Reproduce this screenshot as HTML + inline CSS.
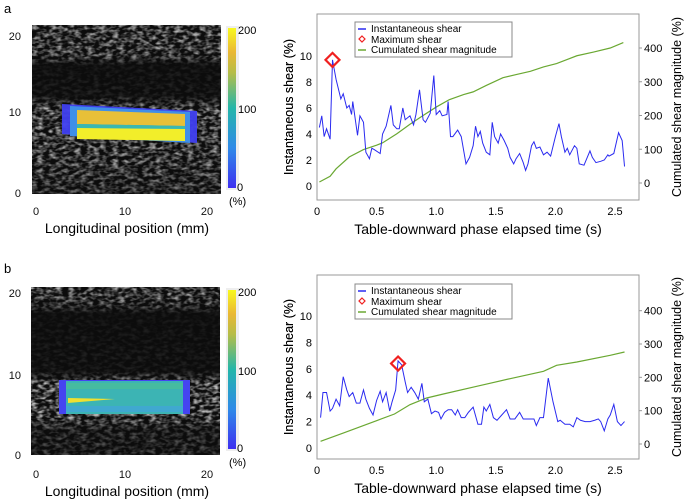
<!DOCTYPE html>
<html><head><meta charset="utf-8"><style>
body{margin:0;background:#fff;}
svg{display:block;font-family:"Liberation Sans",sans-serif;}
</style></head><body>
<svg id="fig" width="685" height="501" viewBox="0 0 685 501" xmlns="http://www.w3.org/2000/svg">
<defs>
<filter id="speckle" x="0" y="0" width="100%" height="100%">
<feTurbulence type="fractalNoise" baseFrequency="0.16 0.3" numOctaves="2" seed="4"/>
<feColorMatrix type="matrix" values="0 0 0 0 0.85  0 0 0 0 0.85  0 0 0 0 0.85  2.4 0 0 0 -0.95"/>
</filter>
<linearGradient id="bandA" x1="0" y1="0" x2="0" y2="1">
<stop offset="0" stop-color="#fff" stop-opacity="0.75"/><stop offset="0.18" stop-color="#fff" stop-opacity="0.65"/>
<stop offset="0.24" stop-color="#fff" stop-opacity="0.08"/><stop offset="0.42" stop-color="#fff" stop-opacity="0.12"/>
<stop offset="0.5" stop-color="#fff" stop-opacity="0.8"/><stop offset="0.75" stop-color="#fff" stop-opacity="0.7"/>
<stop offset="1" stop-color="#fff" stop-opacity="0.45"/></linearGradient>
<linearGradient id="bandB" x1="0" y1="0" x2="0" y2="1">
<stop offset="0" stop-color="#fff" stop-opacity="0.75"/><stop offset="0.1" stop-color="#fff" stop-opacity="0.55"/>
<stop offset="0.16" stop-color="#fff" stop-opacity="0.07"/><stop offset="0.5" stop-color="#fff" stop-opacity="0.1"/>
<stop offset="0.58" stop-color="#fff" stop-opacity="0.85"/><stop offset="0.78" stop-color="#fff" stop-opacity="0.75"/>
<stop offset="0.85" stop-color="#fff" stop-opacity="0.3"/><stop offset="1" stop-color="#fff" stop-opacity="0.3"/></linearGradient>
<mask id="maskA" maskContentUnits="objectBoundingBox"><rect width="1" height="1" fill="url(#bandA)"/></mask>
<mask id="maskB" maskContentUnits="objectBoundingBox"><rect width="1" height="1" fill="url(#bandB)"/></mask>
<linearGradient id="cbar" x1="0" y1="1" x2="0" y2="0">
<stop offset="0" stop-color="#3d2ff0"/><stop offset="0.25" stop-color="#2f8ae8"/><stop offset="0.5" stop-color="#24b6aa"/>
<stop offset="0.72" stop-color="#b5bd48"/><stop offset="0.85" stop-color="#eab834"/><stop offset="1" stop-color="#f8f820"/></linearGradient>
</defs>

<!-- Panel a image -->
<text x="4" y="13" font-size="13">a</text>
<g>
<rect x="32" y="25" width="189" height="169" fill="#0c0c0c"/>
<rect x="32" y="25" width="189" height="169" filter="url(#speckle)" mask="url(#maskA)"/>
<g>
<polygon points="62,104 197,111 197,143 62,134" fill="#4040f0" opacity="0.95"/>
<polygon points="70,106 190,112 190,143 70,136" fill="#3f8fe8"/>
<polygon points="77,110 185,114 185,126 77,124" fill="#e8c038"/>
<polygon points="77,124 185,126 185,129 77,128" fill="#3ab8b0"/>
<polygon points="77,128 185,129 185,141 77,139" fill="#f2ee2a"/>
</g></g>
<g font-size="11" fill="#111">
<text x="21" y="40" text-anchor="end">20</text><text x="21" y="116" text-anchor="end">10</text><text x="21" y="197" text-anchor="end">0</text>
<text x="36" y="215" text-anchor="middle">0</text><text x="125" y="215" text-anchor="middle">10</text><text x="207" y="215" text-anchor="middle">20</text>
</g>
<text x="127" y="233" font-size="14" text-anchor="middle">Longitudinal position (mm)</text>
<rect x="226" y="26" width="13" height="164" fill="#eee"/>
<rect x="228" y="28" width="8" height="160" fill="url(#cbar)"/>
<g font-size="11">
<text x="238" y="34">200</text><text x="238" y="113">100</text><text x="237" y="191">0</text><text x="229" y="205">(%)</text></g>
<text transform="translate(293,107) rotate(-90)" font-size="12.5" text-anchor="middle">Instantaneous shear  (%)</text>

<!-- Panel b image -->
<text x="4" y="273" font-size="13">b</text>
<g>
<rect x="31" y="287" width="189" height="168" fill="#0c0c0c"/>
<rect x="31" y="287" width="189" height="168" filter="url(#speckle)" mask="url(#maskB)"/>
<g>
<rect x="59" y="380" width="131" height="34" fill="#4545f0"/>
<rect x="66" y="381" width="117" height="33" fill="#3cb4b4"/>
<rect x="66" y="383" width="117" height="6" fill="#46bca0"/>
<polygon points="68,398 115,399 68,403" fill="#f0e030"/>
<rect x="66" y="406" width="117" height="6" fill="#40a8d0"/>
</g></g>
<g font-size="11" fill="#111">
<text x="21" y="297" text-anchor="end">20</text><text x="21" y="379" text-anchor="end">10</text><text x="21" y="459" text-anchor="end">0</text>
<text x="36" y="478" text-anchor="middle">0</text><text x="125" y="478" text-anchor="middle">10</text><text x="207" y="478" text-anchor="middle">20</text>
</g>
<text x="127" y="496" font-size="14" text-anchor="middle">Longitudinal position (mm)</text>
<rect x="226" y="288" width="13" height="163" fill="#eee"/>
<rect x="228" y="290" width="8" height="159" fill="url(#cbar)"/>
<g font-size="11">
<text x="238" y="296">200</text><text x="238" y="375">100</text><text x="237" y="452">0</text><text x="229" y="466">(%)</text></g>
<text transform="translate(293,367) rotate(-90)" font-size="12.5" text-anchor="middle">Instantaneous shear  (%)</text>

<g id="chartA"></g>
<g id="chartB"></g>
</svg>
<script>
// Chart a data
const timeA = [0.02,0.04,0.06,0.08,0.11,0.13,0.16,0.20,0.22,0.25,0.27,0.29,0.30,0.34,0.36,0.39,0.41,0.44,0.46,0.48,0.53,0.55,0.58,0.62,0.64,0.67,0.69,0.72,0.74,0.78,0.81,0.83,0.86,0.89,0.91,0.95,0.98,1.00,1.03,1.05,1.09,1.10,1.12,1.14,1.18,1.21,1.25,1.28,1.31,1.33,1.35,1.37,1.39,1.42,1.45,1.47,1.49,1.52,1.54,1.57,1.60,1.62,1.65,1.67,1.70,1.73,1.75,1.77,1.80,1.82,1.84,1.87,1.90,1.93,1.96,2.00,2.03,2.05,2.08,2.10,2.12,2.16,2.18,2.20,2.24,2.29,2.31,2.34,2.38,2.41,2.44,2.45,2.49,2.53,2.56,2.58];
const shearA = [4.5,5.4,3.8,4.4,3.6,9.7,8.2,6.7,7.1,6.0,6.2,5.5,6.5,3.9,5.4,4.9,2.6,2.1,2.9,2.8,2.5,4.0,4.6,6.2,4.7,4.4,4.4,6.0,5.1,5.4,4.7,5.5,7.4,5.1,4.9,5.6,8.5,5.5,5.8,5.4,5.5,6.5,3.8,3.8,4.3,3.8,1.7,2.2,3.1,4.6,3.8,4.2,3.3,2.6,2.4,4.9,3.8,3.3,4.0,3.5,2.9,2.2,1.7,2.1,2.5,1.8,1.2,1.7,3.1,3.4,2.9,3.0,2.4,2.6,2.3,3.8,4.8,3.8,2.6,2.9,2.4,3.1,2.9,1.7,1.6,2.7,2.2,1.8,1.9,2.0,2.4,2.3,2.5,4.1,3.5,1.5];
const cumTimeA = [0.02,0.11,0.16,0.27,0.39,0.50,0.55,0.67,0.78,0.89,1.00,1.11,1.23,1.31,1.42,1.56,1.68,1.79,1.90,2.01,2.10,2.18,2.32,2.46,2.57];
const cumA = [3,20,42,77,99,112,119,146,174,200,225,247,262,270,289,312,322,331,344,354,366,377,388,400,416];
const maxA = [0.13, 9.7];
// Chart b data
const timeB = [0.03,0.05,0.08,0.11,0.13,0.16,0.19,0.22,0.25,0.27,0.30,0.33,0.36,0.39,0.41,0.44,0.47,0.50,0.53,0.55,0.58,0.61,0.63,0.66,0.68,0.71,0.74,0.76,0.79,0.82,0.85,0.88,0.90,0.93,0.96,0.99,1.02,1.04,1.07,1.10,1.13,1.16,1.18,1.21,1.24,1.27,1.31,1.35,1.38,1.40,1.42,1.45,1.48,1.51,1.55,1.59,1.62,1.66,1.70,1.73,1.77,1.82,1.84,1.87,1.90,1.94,1.98,2.02,2.04,2.08,2.12,2.15,2.18,2.21,2.25,2.29,2.33,2.36,2.38,2.41,2.44,2.46,2.49,2.52,2.55,2.58];
const shearB = [2.3,4.2,4.2,2.8,3.0,3.7,3.2,5.4,4.4,3.9,4.2,3.4,3.4,4.4,3.7,3.0,2.5,3.6,4.3,3.5,4.2,2.8,3.5,4.4,6.6,6.3,5.0,4.2,4.6,4.2,3.7,4.9,3.5,3.7,2.6,2.8,2.7,2.2,2.7,2.9,2.9,2.5,2.9,2.3,2.3,2.7,3.1,1.8,1.8,3.1,2.8,3.3,2.3,2.1,2.5,2.9,2.2,2.2,2.7,2.2,2.2,2.2,1.7,2.3,2.3,5.3,3.5,2.0,2.1,1.8,1.8,1.6,2.3,2.1,2.0,2.0,2.1,2.2,2.0,1.3,2.2,2.5,3.3,2.0,1.7,2.0];
const cumTimeB = [0.03,0.22,0.50,0.65,0.78,0.92,1.06,1.34,1.62,1.90,2.01,2.18,2.46,2.58];
const cumB = [8,33,70,90,118,138,150,173,196,218,236,246,266,276];
const maxB = [0.68, 6.4];
const xTicks = [0,0.5,1.0,1.5,2.0,2.5];
const xTickLabels = ["0","0.5","1.0","1.5","2.0","2.5"];
const leftTicks = [0,2,4,6,8,10];
const rightTicks = [0,100,200,300,400];

const NS='http://www.w3.org/2000/svg';
function mk(parent,tag,attrs,text){const e=document.createElementNS(NS,tag);for(const k in attrs)e.setAttribute(k,attrs[k]);if(text!==undefined)e.textContent=text;parent.appendChild(e);return e;}

function drawChart(g, cfg, time, shear, cumT, cum, mx, tag){
  const X=t=>cfg.x0+t*cfg.xs;
  const YL=v=>cfg.yL0-v*cfg.yLs;
  const YR=c=>cfg.yR0-c*cfg.yRs;
  const box=mk(g,'rect',{x:cfg.bx0,y:cfg.by0,width:cfg.bx1-cfg.bx0,height:cfg.by1-cfg.by0,fill:'none',stroke:'#999','stroke-width':1});
  
  
  xTicks.forEach((t,i)=>{
    const l=mk(g,'text',{x:X(t),y:cfg.by1+15,'font-size':11,'text-anchor':'middle'},xTickLabels[i]);
    
    
  });
  leftTicks.forEach(v=>{
    const l=mk(g,'text',{x:cfg.bx0-5,y:YL(v)+4,'font-size':11,'text-anchor':'end'},String(v));
    
    
  });
  rightTicks.forEach(v=>{
    const tk=mk(g,'line',{x1:cfg.bx1,x2:cfg.bx1+3,y1:YR(v),y2:YR(v),stroke:'#999'});
    
    
    const l=mk(g,'text',{x:cfg.bx1+5,y:YR(v)+4,'font-size':11},String(v));
    
    
  });
  const xt=mk(g,'text',{x:478,y:cfg.by1+34,'font-size':14,'text-anchor':'middle'},'Table-downward phase elapsed time (s)');
  
  
  const cy=(cfg.by0+cfg.by1)/2;
  const lt=mk(g,'text',{transform:`translate(293,${cy}) rotate(-90)`,'font-size':12.5,'text-anchor':'middle'},'Instantaneous shear  (%)');
  
  
  const rt=mk(g,'text',{transform:`translate(681,${cy}) rotate(-90)`,'font-size':12.5,'text-anchor':'middle'},'Cumulated shear magnitude (%)');
  
  
  const cl=mk(g,'polyline',{points:cumT.map((t,i)=>X(t)+','+YR(cum[i])).join(' '),fill:'none',stroke:'#6aa832','stroke-width':1.2});
  
  
  const sl=mk(g,'polyline',{points:time.map((t,i)=>X(t)+','+YL(shear[i])).join(' '),fill:'none',stroke:'#2a2af0','stroke-width':1});
  
  
  const mxX=X(mx[0]), mxY=YL(mx[1]);
  const m=mk(g,'polygon',{points:`${mxX},${mxY-7} ${mxX+7},${mxY} ${mxX},${mxY+7} ${mxX-7},${mxY}`,fill:'none',stroke:'#f02020','stroke-width':2.2});
  
  
  // legend
  const lg=mk(g,'g',{});
  
  
  const ly=cfg.ly;
  mk(lg,'rect',{x:355,y:ly,width:157,height:35,fill:'#fff',stroke:'#888'});
  const e1=mk(lg,'g',{});
  
  
  mk(e1,'line',{x1:358,x2:366,y1:ly+7,y2:ly+7,stroke:'#2a2af0','stroke-width':1.5});
  mk(e1,'text',{x:371,y:ly+10,'font-size':10},'Instantaneous shear');
  const e2=mk(lg,'g',{});
  
  
  mk(e2,'polygon',{points:`362,${ly+14} 365,${ly+17} 362,${ly+20} 359,${ly+17}`,fill:'none',stroke:'#f02020','stroke-width':1.2});
  mk(e2,'text',{x:371,y:ly+21,'font-size':10},'Maximum shear');
  const e3=mk(lg,'g',{});
  
  
  mk(e3,'line',{x1:358,x2:366,y1:ly+28,y2:ly+28,stroke:'#6aa832','stroke-width':1.5});
  mk(e3,'text',{x:371,y:ly+31,'font-size':10},'Cumulated shear magnitude');
}
drawChart(document.getElementById('chartA'),
  {x0:317,xs:119.2,yL0:186,yLs:13,yR0:183,yRs:0.3375,bx0:317,bx1:639,by0:14,by1:200,ly:22},
  timeA,shearA,cumTimeA,cumA,maxA,'a');
drawChart(document.getElementById('chartB'),
  {x0:317,xs:119.2,yL0:448,yLs:13.2,yR0:444,yRs:0.3333,bx0:317,bx1:639,by0:275,by1:459,ly:284},
  timeB,shearB,cumTimeB,cumB,maxB,'b');
</script>
</body></html>
